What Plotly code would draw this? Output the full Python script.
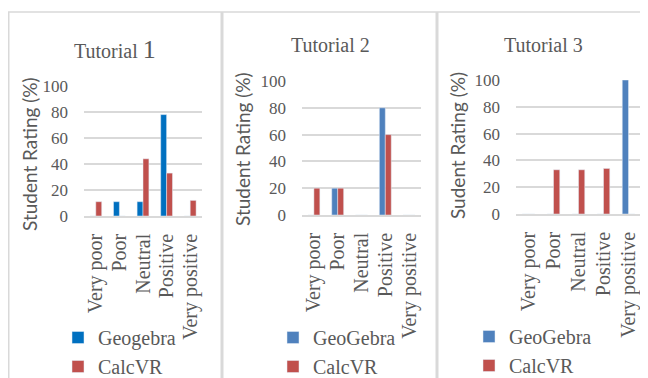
import plotly.graph_objects as go

categories = ["Very poor", "Poor", "Neutral", "Positive", "Very positive"]

t1_geogebra = [0, 11, 11, 78, 0]
t1_calcvr = [11, 0, 44, 33, 12]
t2_geogebra = [0, 20, 0, 80, 0]
t2_calcvr = [20, 20, 0, 60, 0]
t3_geogebra = [0, 0, 0, 0, 100]
t3_calcvr = [0, 33, 33, 34, 0]

titles = ["Tutorial <span style='font-size:26px'>1</span>", "Tutorial 2", "Tutorial 3"]
ytitles = ["Student Rating (%)", "Student Rating (%)", "Sudent Rating (%)"]
y_ticks = [0, 20, 40, 60, 80, 100]

W, H = 648, 378
OFF = 8  # the page places the figure 8px in from the top-left corner
SERIF = "Liberation Serif, Times New Roman, serif"
SANS = "Lato, Open Sans, sans-serif"
GRAY = "#595959"
GRID = "#d9d9d9"

def px(x):
    return (x - OFF) / W

def py(y):
    return 1 - (y - OFF) / H

# pixel geometry of each panel (screen pixels): (x0, x1, y_zero, y_hundred)
panels = [(84, 202, 216, 86), (302, 421, 215, 81), (516, 641, 214, 80)]
title_pos = [(115, 49), (330, 45), (543, 45)]
ytitle_pos = [(29, 154), (242, 149), (457, 146)]
legend_pos = [(58, 318), (273, 318), (469, 317)]

series = [
    (t1_geogebra, t1_calcvr, "Geogebra", "#0070C0"),
    (t2_geogebra, t2_calcvr, "GeoGebra", "#4F81BD"),
    (t3_geogebra, t3_calcvr, "GeoGebra", "#4F81BD"),
]

fig = go.Figure()
layout = dict(
    width=W, height=H,
    margin=dict(l=0, r=0, t=0, b=0, autoexpand=False),
    paper_bgcolor="white", plot_bgcolor="white",
    barmode="group", bargap=0.5, bargroupgap=0,
    showlegend=True,
)

annotations = []
shapes = []

for i, (geo, calc, geo_name, geo_color) in enumerate(series):
    k = "" if i == 0 else str(i + 1)
    leg = "legend" if i == 0 else f"legend{i + 1}"
    fig.add_trace(go.Bar(x=categories, y=geo, name=geo_name, marker_color=geo_color,
                         xaxis="x" + k, yaxis="y" + k, legend=leg))
    fig.add_trace(go.Bar(x=categories, y=calc, name="CalcVR", marker_color="#C0504D",
                         xaxis="x" + k, yaxis="y" + k, legend=leg))
    x0, x1, yz, yh = panels[i]
    layout["xaxis" + k] = dict(
        domain=[px(x0), px(x1)], anchor="y" + k,
        tickmode="array", tickvals=categories, ticktext=categories,
        tickangle=-90, tickfont=dict(family=SERIF, size=20, color=GRAY),
        showline=True, linecolor=GRID, linewidth=1.5, showgrid=False,
        ticks="", ticklabelstandoff=8, fixedrange=True, automargin=False,
    )
    layout["yaxis" + k] = dict(
        domain=[py(yz), py(yh)], anchor="x" + k, range=[0, 100],
        tickvals=y_ticks, tickfont=dict(family=SERIF, size=17, color=GRAY),
        showgrid=True, gridcolor=GRID, gridwidth=1.5, zeroline=False,
        showline=False, ticks="", ticklabelstandoff=15, fixedrange=True, automargin=False,
    )
    lx, ly = legend_pos[i]
    layout[leg] = dict(
        x=px(lx), y=py(ly), xanchor="left", yanchor="top",
        font=dict(family=SERIF, size=20, color=GRAY),
        bgcolor="rgba(0,0,0,0)", itemwidth=30, tracegroupgap=0,
        orientation="v",
    )
    tx, ty = title_pos[i]
    annotations.append(dict(text=titles[i], x=px(tx), y=py(ty), xref="paper", yref="paper",
                            showarrow=False, xanchor="center", yanchor="middle",
                            font=dict(family=SERIF, size=20, color=GRAY)))
    ax, ay = ytitle_pos[i]
    annotations.append(dict(text=ytitles[i], x=px(ax), y=py(ay), xref="paper", yref="paper",
                            showarrow=False, xanchor="center", yanchor="middle", textangle=-90,
                            font=dict(family=SANS, size=19, color=GRAY)))

# panel frame lines
shapes.append(dict(type="line", xref="paper", yref="paper", x0=px(8), x1=1, y0=py(12), y1=py(12),
                   line=dict(color=GRID, width=1.5)))
shapes.append(dict(type="line", xref="paper", yref="paper", x0=px(8.75), x1=px(8.75), y0=py(12), y1=0,
                   line=dict(color=GRID, width=1.5)))
for xv in (222, 437):
    shapes.append(dict(type="line", xref="paper", yref="paper", x0=px(xv), x1=px(xv), y0=py(12), y1=0,
                       line=dict(color=GRID, width=3)))

layout["annotations"] = annotations
layout["shapes"] = shapes
fig.update_layout(**layout)
fig.write_html("out.html")
